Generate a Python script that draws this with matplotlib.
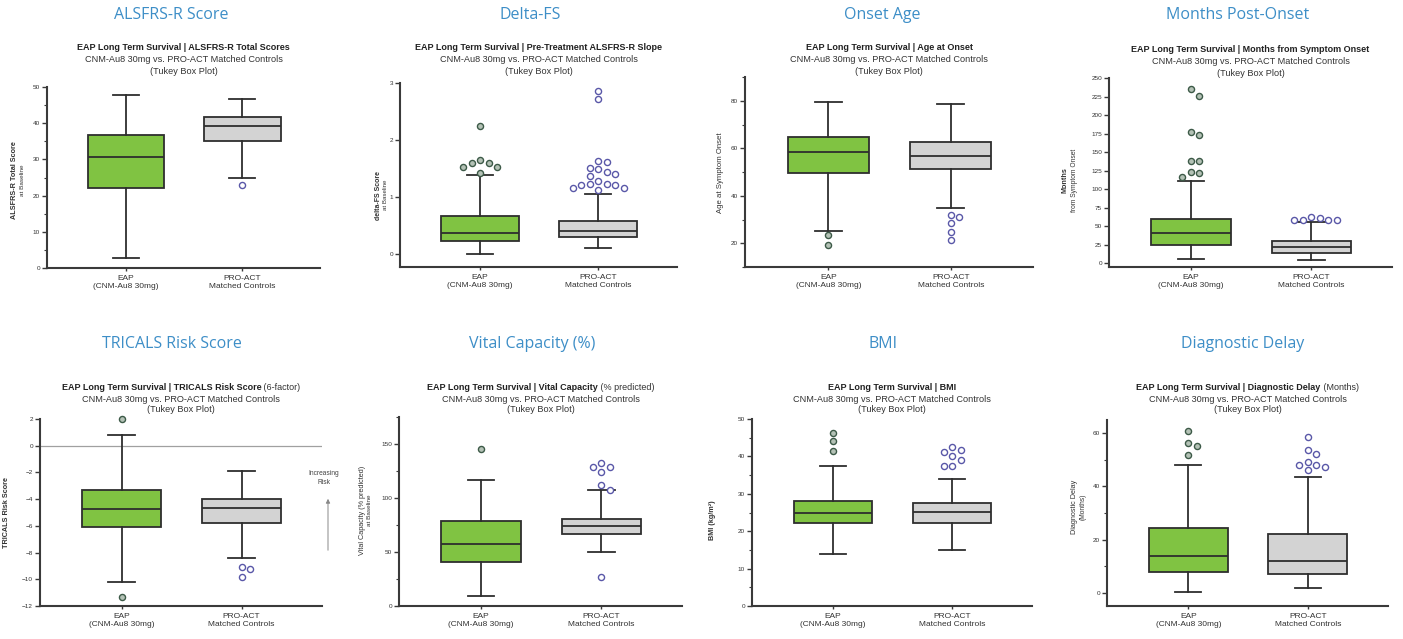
import matplotlib
matplotlib.use("Agg")
import matplotlib.pyplot as plt
from matplotlib.offsetbox import TextArea, HPacker, AnnotationBbox
from matplotlib.ticker import MultipleLocator, NullLocator

W, H = 1403, 639
plt.rcParams['font.family'] = ['Liberation Sans', 'DejaVu Sans']

categories = ["EAP\n(CNM-Au8 30mg)", "PRO-ACT\nMatched Controls"]

# Tukey box stats: [whisker_low, q1, median, q3, whisker_high]
alsfrs_eap = [2.9, 22.0, 30.7, 36.7, 47.9]
alsfrs_pro = [24.8, 35.1, 39.2, 41.7, 46.8]
alsfrs_eap_out = []
alsfrs_pro_out = [22.9]

deltafs_eap = [0.0, 0.235, 0.365, 0.67, 1.38]
deltafs_pro = [0.11, 0.29, 0.41, 0.58, 1.05]
deltafs_eap_out = [2.25, 1.65, 1.59, 1.59, 1.52, 1.52, 1.42]
deltafs_pro_out = [2.86, 2.72, 1.63, 1.61, 1.51, 1.49, 1.44, 1.40, 1.37, 1.28,
                   1.23, 1.23, 1.21, 1.21, 1.16, 1.16, 1.12]

onset_eap = [25.3, 49.5, 58.3, 64.6, 79.3]
onset_pro = [35.0, 51.3, 56.6, 62.8, 78.5]
onset_eap_out = [23.5, 19.3]
onset_pro_out = [32.1, 31.0, 28.4, 24.9, 21.4]

months_eap = [5.4, 24.7, 40.4, 59.2, 111.0]
months_pro = [4.5, 13.5, 21.5, 30.5, 56.0]
months_eap_out = [234.6, 225.2, 176.7, 172.7, 137.7, 137.7, 122.9, 121.5, 116.1]
months_pro_out = [62.0, 60.5, 59.0, 58.5, 58.5, 58.0]

tricals_eap = [-10.2, -6.1, -4.77, -3.32, 0.8]
tricals_pro = [-8.4, -5.82, -4.7, -4.0, -1.87]
tricals_eap_out = [2.0, -11.36]
tricals_pro_out = [-9.1, -9.24, -9.8]

vc_eap = [9.2, 40.8, 57.7, 78.5, 116.9]
vc_pro = [49.7, 66.3, 74.2, 80.4, 107.0]
vc_eap_out = [145.0]
vc_pro_out = [132.0, 128.5, 128.5, 124.0, 111.7, 107.7, 26.4]

bmi_eap = [13.8, 22.1, 25.0, 28.1, 37.5]
bmi_pro = [14.9, 22.3, 25.1, 27.6, 33.9]
bmi_eap_out = [46.3, 44.2, 41.4]
bmi_pro_out = [42.6, 41.7, 41.3, 40.1, 39.0, 37.3, 37.3]

delay_eap = [0.4, 7.9, 13.8, 24.5, 48.0]
delay_pro = [1.9, 7.0, 12.0, 22.0, 43.6]
delay_eap_out = [60.8, 56.5, 55.1, 52.0]
delay_pro_out = [58.6, 53.6, 52.1, 49.2, 48.2, 48.0, 47.3, 46.1]

panel_titles = ["ALSFRS-R Score", "Delta-FS", "Onset Age", "Months Post-Onset",
                "TRICALS Risk Score", "Vital Capacity (%)", "BMI", "Diagnostic Delay"]

# ---------------- styling / layout ----------------
TITLE_BLUE = '#3d8ec7'
GREEN = '#80c342'
GRAY = '#d3d3d3'
EDGE = '#2e2e2e'
EAP_OUT = ('#3d5a48', '#b4c2b6')
PRO_OUT = ('#5a58a8', '#ffffff')

fig = plt.figure(figsize=(W / 100, H / 100), dpi=100)
fig.patch.set_facecolor('white')

def fx(x):
    return x / W

def fy(y):
    return 1 - y / H

panels = [
    dict(stats=(alsfrs_eap, alsfrs_pro), outs=(alsfrs_eap_out, alsfrs_pro_out),
         rect=(47, 87, 320, 268), tpos=(171, 15), hy=(48, 60, 71),
         head=("EAP Long Term Survival | ALSFRS-R Total Scores", ""),
         ylim=(0, 50), major=10, minor=5,
         ylab=[("ALSFRS-R Total Score", 15, 'bold', 5.2), ("at Baseline", 23, 'normal', 4.6)], ylc=180),
    dict(stats=(deltafs_eap, deltafs_pro), outs=(deltafs_eap_out, deltafs_pro_out),
         rect=(400, 83, 677, 267), tpos=(530, 15), hy=(48, 60, 71),
         head=("EAP Long Term Survival | Pre-Treatment ALSFRS-R Slope", ""),
         ylim=(-0.23, 3), major=1, minor=None,
         ylab=[("delta-FS Score", 379, 'bold', 5.0), ("at Baseline", 386, 'normal', 4.4)], ylc=195),
    dict(stats=(onset_eap, onset_pro), outs=(onset_eap_out, onset_pro_out),
         rect=(745, 77, 1033, 267), tpos=(882, 15), hy=(48, 60, 71),
         head=("EAP Long Term Survival | Age at Onset", ""),
         ylim=(10, 90), major=20, minor=10,
         ylab=[("Age at Symptom Onset", 721, 'normal', 5.6)], ylc=173),
    dict(stats=(months_eap, months_pro), outs=(months_eap_out, months_pro_out),
         rect=(1109, 78, 1392, 267), tpos=(1238, 15), hy=(49, 61, 73),
         head=("EAP Long Term Survival | Months from Symptom Onset", ""),
         ylim=(-5, 250), major=25, minor=None,
         ylab=[("Months", 1065, 'bold', 5.2), ("from Symptom Onset", 1074, 'normal', 4.8)], ylc=180),
    dict(stats=(tricals_eap, tricals_pro), outs=(tricals_eap_out, tricals_pro_out),
         rect=(40, 419, 322, 606), tpos=(172, 344), hy=(388, 399, 410),
         head=("EAP Long Term Survival | TRICALS Risk Score", " (6-factor)"),
         ylim=(-12, 2), major=2, minor=None,
         ylab=[("TRICALS Risk Score", 7, 'bold', 5.2)], ylc=513),
    dict(stats=(vc_eap, vc_pro), outs=(vc_eap_out, vc_pro_out),
         rect=(399, 417, 682, 606), tpos=(532, 344), hy=(388, 399, 410),
         head=("EAP Long Term Survival | Vital Capacity", " (% predicted)"),
         ylim=(0, 175), major=50, minor=25,
         ylab=[("Vital Capacity (% predicted)", 363, 'normal', 5.2), ("at Baseline", 370, 'normal', 4.6)], ylc=510),
    dict(stats=(bmi_eap, bmi_pro), outs=(bmi_eap_out, bmi_pro_out),
         rect=(752, 419, 1032, 606), tpos=(883, 344), hy=(387, 399, 410),
         head=("EAP Long Term Survival | BMI", ""),
         ylim=(0, 50), major=10, minor=5,
         ylab=[("BMI (kg/m²)", 713, 'bold', 5.2)], ylc=520),
    dict(stats=(delay_eap, delay_pro), outs=(delay_eap_out, delay_pro_out),
         rect=(1107, 420, 1388, 606), tpos=(1243, 344), hy=(388, 399, 410),
         head=("EAP Long Term Survival | Diagnostic Delay", " (Months)"),
         ylim=(-5, 65), major=20, minor=10,
         ylab=[("Diagnostic Delay", 1075, 'normal', 5.2), ("(Months)", 1083, 'normal', 4.8)], ylc=507),
]

POS = [1, 2]
XLIM = (0.32, 2.67)
BOXW = 0.66


def swarm(ax, center, values, spacing=8.5):
    """Spread points horizontally (display px) so circles do not overlap."""
    if not values:
        return []
    x0, x1 = ax.get_xlim()
    px_per_x = ax.bbox.width / (x1 - x0)
    placed = []
    xs = []
    order = [0]
    for k in range(1, 10):
        order += [k, -k]
    for v in values:
        ypx = ax.transData.transform((center, v))[1]
        chosen = 0
        for k in order:
            xo = k * spacing
            ok = all(((xo - px) ** 2 + (ypx - py) ** 2) >= (spacing * 0.92) ** 2 for px, py in placed)
            if ok:
                chosen = xo
                break
        placed.append((chosen, ypx))
        xs.append(center + chosen / px_per_x)
    return xs


for i, p in enumerate(panels):
    l, t, r, b = p['rect']
    ax = fig.add_axes([fx(l), fy(b), fx(r) - fx(l), (b - t) / H])
    ax.set_facecolor('none')
    ax.set_xlim(*XLIM)
    ax.set_ylim(*p['ylim'])

    stats = []
    for s in p['stats']:
        stats.append(dict(whislo=s[0], q1=s[1], med=s[2], q3=s[3], whishi=s[4], fliers=[]))
    bp = ax.bxp(stats, positions=POS, widths=BOXW, patch_artist=True, showfliers=False,
                capwidths=0.22,
                boxprops=dict(edgecolor=EDGE, linewidth=1.3),
                medianprops=dict(color=EDGE, linewidth=1.3),
                whiskerprops=dict(color=EDGE, linewidth=1.3),
                capprops=dict(color=EDGE, linewidth=1.3))
    for patch, fc in zip(bp['boxes'], [GREEN, GRAY]):
        patch.set_facecolor(fc)

    if i == 4:
        ax.axhline(0, color='#a0a0a0', lw=0.9, zorder=0)

    for pos, vals, (ec, fc) in zip(POS, p['outs'], [EAP_OUT, PRO_OUT]):
        xs = swarm(ax, pos, vals)
        ax.plot(xs, vals, linestyle='none', marker='o', markersize=4.4,
                markeredgewidth=1.0, markeredgecolor=ec, markerfacecolor=fc,
                clip_on=False, zorder=5)

    for side in ['top', 'right']:
        ax.spines[side].set_visible(False)
    for side in ['left', 'bottom']:
        ax.spines[side].set_linewidth(1.5)
        ax.spines[side].set_color('#3a3a3a')

    ax.yaxis.set_major_locator(MultipleLocator(p['major']))
    if p['minor']:
        ax.yaxis.set_minor_locator(MultipleLocator(p['minor']))
    else:
        ax.yaxis.set_minor_locator(NullLocator())
    ax.tick_params(axis='y', which='major', length=3.5, width=1.0, labelsize=4.6,
                   color='#3a3a3a', labelcolor='#333333', pad=1.5)
    ax.tick_params(axis='y', which='minor', length=2, width=0.8, color='#3a3a3a')
    ax.set_xticks(POS)
    ax.set_xticklabels(categories, fontsize=6.0, color='#333333', linespacing=1.25)
    ax.tick_params(axis='x', length=2.5, width=1.0, color='#3a3a3a', pad=2.5)

    # y labels (rotated, possibly two lines with different weights)
    for txt, x, wt, fs in p['ylab']:
        fig.text(fx(x), fy(p['ylc']), txt, rotation=90, ha='center', va='center',
                 fontsize=fs, fontweight=wt, color='#333333')

    # panel heading
    tx, ty = p['tpos']
    fig.text(fx(tx), fy(ty), panel_titles[i], ha='center', va='center',
             fontsize=11.5, color=TITLE_BLUE, family=['Open Sans', 'DejaVu Sans'])

    # chart title block
    cx = (fx(l) + fx(r)) / 2
    bold, norm = p['head']
    children = [TextArea(bold, textprops=dict(fontsize=6.5, fontweight='bold', color='#222222'))]
    if norm:
        children.append(TextArea(norm, textprops=dict(fontsize=6.5, color='#333333')))
    pack = HPacker(children=children, pad=0, sep=0, align='baseline')
    ab = AnnotationBbox(pack, (cx, fy(p['hy'][0])), xycoords='figure fraction',
                        box_alignment=(0.5, 0.5), frameon=False, pad=0)
    fig.add_artist(ab)
    fig.text(cx, fy(p['hy'][1]), "CNM-Au8 30mg vs. PRO-ACT Matched Controls",
             ha='center', va='center', fontsize=6.6, color='#333333')
    fig.text(cx, fy(p['hy'][2]), "(Tukey Box Plot)",
             ha='center', va='center', fontsize=6.6, color='#333333')

    if i == 4:
        fig.text(fx(324), fy(478), "Increasing\nRisk", ha='center', va='center',
                 fontsize=4.8, color='#444444', linespacing=1.3)
        fig.add_artist(matplotlib.patches.FancyArrowPatch(
            (fx(328), fy(553)), (fx(328), fy(496)), transform=fig.transFigure,
            arrowstyle='-|>', mutation_scale=6, color='#888888', lw=0.7))

fig.savefig('out.png', dpi=100, facecolor='white')
